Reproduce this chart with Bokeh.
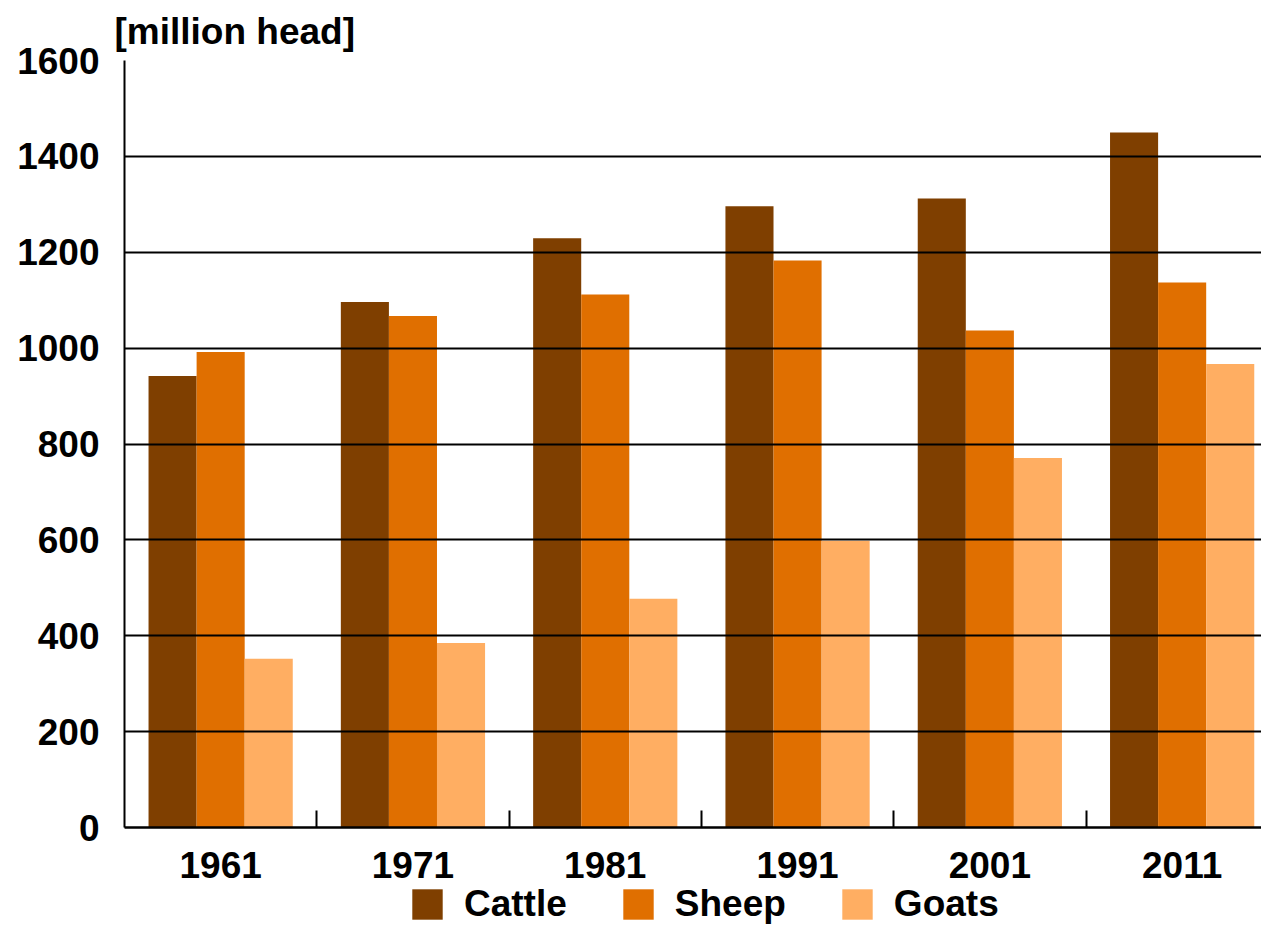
import numpy as np
from bokeh.plotting import figure
from bokeh.models import Range1d, FixedTicker, Legend, LegendItem, Title
from bokeh.embed import file_html
from bokeh.resources import INLINE

years = ["1961", "1971", "1981", "1991", "2001", "2011"]
cattle = [942, 1096, 1229, 1296, 1312, 1450]
sheep = [992, 1067, 1112, 1183, 1037, 1137]
goats = [352, 385, 477, 598, 771, 967]
series_names = ["Cattle", "Sheep", "Goats"]
series_colors = ["#7F3F00", "#E06F00", "#FFAE62"]
y_ticks = [0, 200, 400, 600, 800, 1000, 1200, 1400, 1600]

FONT = "Liberation Sans"
FS = "37px"

# layout: 767 px of frame for 0..1600, extra 98 px below zero for labels + legend
PLOT_PX = 767
EXTRA_PX = 98
YMAX = 1600
ymin = -EXTRA_PX * YMAX / PLOT_PX

p = figure(frame_width=1137, frame_height=PLOT_PX + EXTRA_PX, min_border_left=124, min_border_right=0,
           min_border_top=60, min_border_bottom=0,
           x_range=Range1d(0, 1137 / 192.3), y_range=Range1d(ymin, YMAX),
           output_backend="svg", toolbar_location=None, tools="")
p.outline_line_color = None
p.background_fill_color = "white"
p.border_fill_color = "white"

idx = np.arange(len(years))
bar_w = 0.25
renderers = []
for k, (vals, col) in enumerate(zip([cattle, sheep, goats], series_colors)):
    xs = idx + 0.5 + (k - 1) * bar_w
    r = p.vbar(x=xs, top=vals, bottom=0, width=bar_w, fill_color=col, line_color=None)
    renderers.append(r)

# y axis
p.yaxis.ticker = FixedTicker(ticks=y_ticks)
p.yaxis.bounds = (0, YMAX)
p.yaxis.major_tick_in = 0
p.yaxis.major_tick_out = 0
p.yaxis.minor_tick_in = 0
p.yaxis.minor_tick_out = 0
p.yaxis.axis_line_color = "black"
p.yaxis.axis_line_width = 2
p.yaxis.major_label_standoff = 25
p.yaxis.major_label_text_font = FONT
p.yaxis.major_label_text_font_style = "bold"
p.yaxis.major_label_text_font_size = FS
p.yaxis.major_label_text_color = "black"

# x axis: drawn at y = 0, labels at group centres, ticks between groups
centers = [i + 0.5 for i in range(len(years))]
bounds = [i for i in range(1, len(years))]
p.xaxis.fixed_location = 0
p.xaxis.ticker = FixedTicker(ticks=centers, minor_ticks=bounds)
p.xaxis.major_label_overrides = {c: y for c, y in zip(centers, years)}
p.xaxis.major_tick_in = 0
p.xaxis.major_tick_out = 0
p.xaxis.minor_tick_in = 17
p.xaxis.minor_tick_out = 0
p.xaxis.minor_tick_line_color = "black"
p.xaxis.minor_tick_line_width = 2
p.xaxis.axis_line_color = "black"
p.xaxis.axis_line_width = 2
p.xaxis.major_label_standoff = 24
p.xaxis.major_label_text_font = FONT
p.xaxis.major_label_text_font_style = "bold"
p.xaxis.major_label_text_font_size = FS
p.xaxis.major_label_text_color = "black"

p.xgrid.grid_line_color = None
p.ygrid.grid_line_color = "black"
p.ygrid.grid_line_width = 2
p.ygrid.level = "annotation"

# title as unit label
p.title = Title(text="[million head]", align="left", offset=-10, standoff=13,
                vertical_align="top",
                text_font=FONT, text_font_style="bold", text_font_size=FS,
                text_color="black")

legend = Legend(items=[LegendItem(label=n, renderers=[r]) for n, r in zip(series_names, renderers)],
                orientation="horizontal", location=(284, 0),
                glyph_width=38, glyph_height=38, label_standoff=18, spacing=52,
                padding=0, margin=0, border_line_color=None, background_fill_alpha=0,
                label_text_font=FONT, label_text_font_style="bold",
                label_text_font_size=FS, label_text_color="black")
p.add_layout(legend, "center")

open("out.html", "w").write(file_html(p, INLINE))
